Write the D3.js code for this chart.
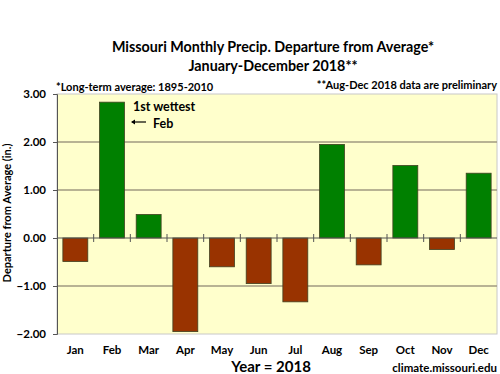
<!DOCTYPE html>
<html><head><meta charset="utf-8">
<script src="https://cdn.jsdelivr.net/npm/d3@7"></script>
<style>body{margin:0;background:#fff;} svg{display:block;} text{font-family:Lato,"Open Sans",sans-serif;font-weight:bold;fill:#000;}</style>
</head><body><svg id="c" width="500" height="374"></svg>
<script>
const months = ["Jan","Feb","Mar","Apr","May","Jun","Jul","Aug","Sep","Oct","Nov","Dec"];
const departures = [-0.49, 2.83, 0.49, -1.95, -0.60, -0.95, -1.33, 1.95, -0.56, 1.51, -0.24, 1.35];
const yTicks = [-2, -1, 0, 1, 2, 3];

const svg = d3.select("#c");
const L = 57, R = 497, T = 94, B = 334;
const x = d3.scaleBand().domain(months).range([L, R]).paddingInner(0.32).paddingOuter(0.16);
const y = d3.scaleLinear().domain([-2, 3]).range([B, T]);

svg.append("rect").attr("x", L).attr("y", T).attr("width", R - L).attr("height", B - T)
  .attr("fill", "#FFFFCC").attr("stroke", "#c8c8c8").attr("stroke-width", 1);

svg.append("g").selectAll("line").data(yTicks.filter(d => d !== 0 && d !== -2 && d !== 3)).join("line")
  .attr("x1", L).attr("x2", R).attr("y1", d => y(d)).attr("y2", d => y(d))
  .attr("stroke", "#a09a80").attr("stroke-width", 1.3);

svg.append("g").selectAll("rect").data(months).join("rect")
  .attr("x", d => x(d))
  .attr("width", x.bandwidth())
  .attr("y", (d, i) => y(Math.max(0, departures[i])))
  .attr("height", (d, i) => Math.abs(y(departures[i]) - y(0)))
  .attr("fill", (d, i) => departures[i] >= 0 ? "#008000" : "#993300")
  .attr("stroke", "#404020").attr("stroke-width", 0.8);

// y axis
const yAxis = d3.axisLeft(y).tickValues(yTicks).tickFormat(d3.format(".2f")).tickSize(4).tickPadding(7);
const gy = svg.append("g").attr("transform", `translate(${L},0)`).call(yAxis);
gy.select(".domain").attr("stroke", "#555");
gy.selectAll(".tick line").attr("stroke", "#555");
gy.selectAll("text").attr("font-size", 11.5).attr("font-family", "Lato, sans-serif").attr("font-weight", "bold");

// zero line with category ticks
svg.append("line").attr("x1", L).attr("x2", R).attr("y1", y(0)).attr("y2", y(0)).attr("stroke", "#555").attr("stroke-width", 1.2);
svg.append("g").selectAll("line").data(months.slice(1)).join("line")
  .attr("x1", d => x(d) - x.step() * 0.16).attr("x2", d => x(d) - x.step() * 0.16)
  .attr("y1", y(0) - 4).attr("y2", y(0) + 4).attr("stroke", "#555");

// x labels
svg.append("g").selectAll("text").data(months).join("text")
  .attr("x", d => x(d) + x.bandwidth() / 2).attr("y", 354)
  .attr("text-anchor", "middle").attr("font-size", 11.5).text(d => d);

svg.append("text").attr("x", 273).attr("y", 52).attr("text-anchor", "middle").attr("font-size", 14.3).text("Missouri Monthly Precip. Departure from Average*");
svg.append("text").attr("x", 273).attr("y", 71).attr("text-anchor", "middle").attr("font-size", 14.3).text("January-December 2018**");
svg.append("text").attr("x", 56).attr("y", 91).attr("font-size", 11).text("*Long-term  average: 1895-2010");
svg.append("text").attr("x", 497).attr("y", 89).attr("text-anchor", "end").attr("font-size", 11).text("**Aug-Dec 2018 data are preliminary");

svg.append("text").attr("transform", "translate(11,213) rotate(-90)").attr("text-anchor", "middle").attr("font-size", 11).text("Departure from Average (in.)");
svg.append("text").attr("x", 271).attr("y", 372).attr("text-anchor", "middle").attr("font-size", 15).text("Year = 2018");
svg.append("text").attr("x", 497).attr("y", 372).attr("text-anchor", "end").attr("font-size", 11.5).text("climate.missouri.edu");

// annotation
svg.append("text").attr("x", 133).attr("y", 111).attr("font-size", 12.5).text("1st wettest");
svg.append("text").attr("x", 153).attr("y", 128).attr("font-size", 12.5).text("Feb");
svg.append("line").attr("x1", 146).attr("x2", 132).attr("y1", 122).attr("y2", 122).attr("stroke", "#000").attr("stroke-width", 1.2);
svg.append("path").attr("d", "M131,122 L135,119.5 L135,124.5 Z").attr("fill", "#000");
</script></body></html>
